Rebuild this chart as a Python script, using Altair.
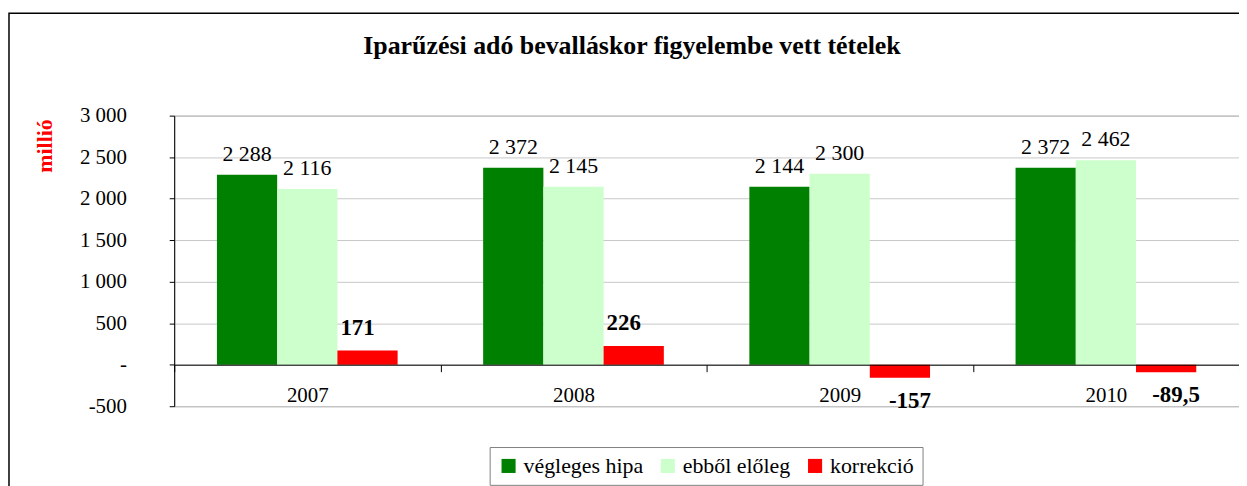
import altair as alt
import pandas as pd

years = ["2007", "2008", "2009", "2010"]
series = ["végleges hipa", "ebből előleg", "korrekció"]
vegleges = [2288, 2372, 2144, 2372]
eloleg = [2116, 2145, 2300, 2462]
korrekcio = [171, 226, -157, -89.5]
colors = ["#008000", "#CCFFCC", "#FF0000"]
y_ticks = [-500, 0, 500, 1000, 1500, 2000, 2500, 3000]
title_text = "Iparűzési adó bevalláskor figyelembe vett tételek"


def fmt(v):
    if float(v).is_integer():
        s = f"{int(v):,}".replace(",", " ")
    else:
        s = f"{v:,.1f}".replace(",", " ").replace(".", ",")
    return s


rows = []
for name, vals in zip(series, [vegleges, eloleg, korrekcio]):
    for yr, v in zip(years, vals):
        rows.append({"year": yr, "series": name, "value": v, "label": fmt(v)})
df = pd.DataFrame(rows)

FONT = "'Liberation Serif', 'Times New Roman', serif"
W, H = 1070, 292

x = alt.X("year:N", sort=years,
          scale=alt.Scale(paddingInner=0, paddingOuter=0),
          axis=alt.Axis(title=None, orient="bottom", offset=-H * 500 / 3500,
                        tickBand="extent", tickSize=7, tickColor="black",
                        domainColor="black", labelFont=FONT, labelFontSize=21,
                        labelColor="black", labelPadding=13, labelAngle=0,
                        zindex=1, grid=False))
xoff = alt.XOffset("series:N", sort=series,
                   scale=alt.Scale(paddingInner=0, paddingOuter=0.71))
y = alt.Y("value:Q",
          scale=alt.Scale(domain=[-500, 3000], nice=False, zero=False),
          axis=alt.Axis(values=y_ticks, title="millió",
                        labelExpr="datum.value == 0 ? '-' : (datum.value < 0 ? '-' : '') + replace(format(abs(datum.value), ','), ',', ' ')",
                        labelFont=FONT, labelFontSize=21, labelColor="black",
                        labelPadding=43, tickSize=5, tickColor="black",
                        domainColor="black", gridColor="#C8C8C8",
                        titleColor="#FF0000", titleFont=FONT, titleFontSize=22,
                        titleFontWeight="bold", titleAngle=-90, titleX=-130,
                        titleY=30, titleAlign="center", titleBaseline="middle"))

base = alt.Chart(df)

bars = base.mark_bar(cornerRadius=0).encode(
    x=x, xOffset=xoff, y=y,
    color=alt.Color("series:N", sort=series,
                    scale=alt.Scale(domain=series, range=colors),
                    legend=alt.Legend(title=None, orient="none", legendX=317,
                                      legendY=333, direction="horizontal",
                                      symbolType="square", symbolSize=200,
                                      symbolStrokeWidth=0,
                                      labelFont=FONT, labelFontSize=22,
                                      labelColor="black", columnPadding=13,
                                      strokeColor="#808080", padding=8,
                                      fillColor="white"))
)

green_labels = base.transform_filter(
    "datum.series != 'korrekció'"
).mark_text(font=FONT, fontSize=22, baseline="bottom", dy=-9, color="black").encode(
    x=alt.X("year:N", sort=years), xOffset=alt.XOffset("series:N", sort=series),
    y="value:Q", text="label:N")

red_pos = base.transform_filter(
    "datum.series == 'korrekció' && datum.value >= 0"
).mark_text(font=FONT, fontSize=23, fontWeight="bold", baseline="bottom",
            dy=-11, dx=-10, color="black").encode(
    x=alt.X("year:N", sort=years), xOffset=alt.XOffset("series:N", sort=series),
    y="value:Q", text="label:N")

red_neg = base.transform_filter(
    "datum.series == 'korrekció' && datum.value < 0"
).mark_text(font=FONT, fontSize=23, fontWeight="bold", baseline="top",
            dy=12, dx=10, color="black").encode(
    x=alt.X("year:N", sort=years), xOffset=alt.XOffset("series:N", sort=series),
    y="value:Q", text="label:N")

frame = alt.Chart(pd.DataFrame({"k": [0]})).mark_rect(
    fill=None, stroke="black", strokeWidth=1.5).encode(
    x=alt.value(-166), x2=alt.value(W + 20), y=alt.value(-103), y2=alt.value(H + 100))

title = alt.Chart(pd.DataFrame({"t": [title_text]})).mark_text(
    font=FONT, fontSize=26, fontWeight="bold", color="black",
    align="center", baseline="middle").encode(
    x=alt.value(460), y=alt.value(-70), text="t:N")

chart = alt.layer(frame, title, bars, green_labels, red_pos, red_neg).properties(
    width=W, height=H,
    autosize=alt.AutoSizeParams(type="none"),
    padding={"left": 167, "top": 107, "right": 0, "bottom": 79},
).configure_view(stroke="#A0A0A0", strokeWidth=1).configure_axis(
    gridWidth=1
)

chart.save("out.html", embed_options={"renderer": "svg", "actions": False})
